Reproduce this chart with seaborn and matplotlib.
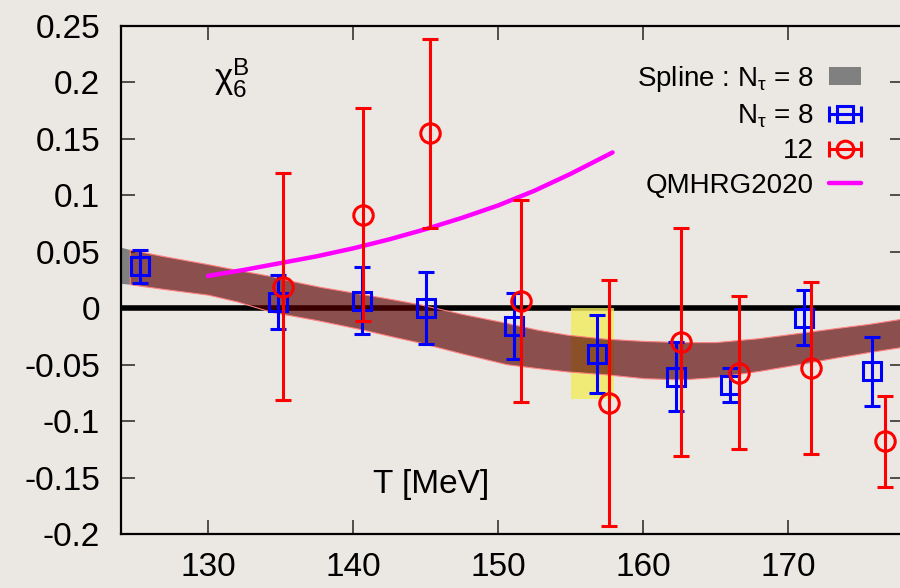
import numpy as np
import matplotlib
matplotlib.use("Agg")
import matplotlib.pyplot as plt
import seaborn as sns
from matplotlib.lines import Line2D
from matplotlib.patches import Patch, Rectangle
from matplotlib.legend_handler import HandlerLine2D, HandlerTuple

# N_tau = 8 lattice points
T8 = [125.3, 134.8, 140.6, 145.0, 151.1, 156.85, 162.3, 166.0, 171.1, 175.8]
chi8 = [0.0372, 0.0056, 0.0068, 0.0, -0.0157, -0.0407, -0.0605, -0.068, -0.0083, -0.056]
err8 = [0.0145, 0.0236, 0.030, 0.032, 0.0295, 0.0345, 0.0307, 0.0153, 0.0245, 0.0307]

# N_tau = 12 lattice points
T12 = [135.15, 140.7, 145.3, 151.6, 157.66, 162.6, 166.6, 171.6, 176.7]
chi12 = [0.019, 0.083, 0.155, 0.006, -0.084, -0.0295, -0.057, -0.053, -0.118]
err12 = [0.1005, 0.0947, 0.0835, 0.0895, 0.109, 0.101, 0.068, 0.0763, 0.040]

# QMHRG2020 curve
T_qm = [130, 132.5, 135, 137.5, 140, 142.5, 145, 147.5, 150, 152.5, 155, 157.9]
chi_qm = [0.0286, 0.034, 0.040, 0.046, 0.053, 0.061, 0.070, 0.080, 0.091, 0.104, 0.119, 0.138]

# spline band (upper / lower edge)
T_band = [124.6, 127, 130, 132, 134.3, 136, 137.7, 140.7, 142.7, 144.6, 147.5, 150.6,
          152.7, 154.8, 157.4, 160.1, 162.7, 165, 168, 171, 173.3, 175.5, 178]
band_hi = [0.052, 0.046, 0.039, 0.034, 0.0286, 0.0235, 0.019, 0.0124, 0.008, 0.0035,
           -0.005, -0.013, -0.019, -0.0235, -0.027, -0.029, -0.030, -0.030, -0.0265,
           -0.0215, -0.0176, -0.014, -0.009]
band_lo = [0.0213, 0.017, 0.012, 0.006, -0.003, -0.007, -0.011, -0.019, -0.025, -0.0304,
           -0.040, -0.0496, -0.053, -0.056, -0.0585, -0.062, -0.063, -0.061, -0.0555,
           -0.049, -0.0437, -0.039, -0.034]
T_gray = [124.0, 124.6]
gray_hi = [0.054, 0.052]
gray_lo = [0.022, 0.0213]

# T_pc region
tpc_range = (155.0, 158.0)
tpc_y = (-0.08, 0.0)

xticks = [130, 140, 150, 160, 170]
yticks = [-0.2, -0.15, -0.1, -0.05, 0.0, 0.05, 0.1, 0.15, 0.2, 0.25]
ytick_labels = ["-0.2", "-0.15", "-0.1", "-0.05", "0", "0.05", "0.1", "0.15", "0.2", "0.25"]

BG = "#ebe8e3"

sns.set_theme(style="ticks")
plt.rcParams["font.family"] = ["Liberation Sans", "DejaVu Sans"]
plt.rcParams["text.color"] = "black"
plt.rcParams["mathtext.fontset"] = "custom"
plt.rcParams["mathtext.rm"] = "Liberation Sans"
plt.rcParams["mathtext.it"] = "Liberation Sans"
plt.rcParams["mathtext.default"] = "regular"
plt.rcParams["axes.unicode_minus"] = False

fig = plt.figure(figsize=(9, 5.88), dpi=100, facecolor=BG)
ax = fig.add_axes([121 / 900, 54 / 588, 783 / 900, 508 / 588])
ax.set_facecolor(BG)

ax.axhline(0, color="black", lw=4, zorder=1)
ax.add_patch(Rectangle((tpc_range[0], tpc_y[0]), tpc_range[1] - tpc_range[0],
                       tpc_y[1] - tpc_y[0], facecolor="#f2ec5c", alpha=0.8,
                       edgecolor="none", zorder=1.5))
ax.fill_between(T_gray, gray_lo, gray_hi, color="#7f7f7f", lw=0, zorder=2)
ax.fill_between(T_band, band_lo, band_hi, facecolor=(0.35, 0.0, 0.0, 0.66),
                edgecolor="#ff8080", lw=0.8, zorder=2)

sns.lineplot(x=T_qm, y=chi_qm, color="#ff00ff", lw=3.2, ax=ax, zorder=4, legend=False)

ax.errorbar(T8, chi8, yerr=err8, fmt="s", ms=13, mfc="none", mec="blue", mew=2.2,
            ecolor="blue", elinewidth=2.2, capsize=6, capthick=2.2, zorder=5)
ax.errorbar(T12, chi12, yerr=err12, fmt="o", ms=14, mfc="none", mec="red", mew=2.2,
            ecolor="red", elinewidth=2.2, capsize=6, capthick=2.2, zorder=6)

ax.set_xlim(124, 178)
ax.set_ylim(-0.2, 0.25)
ax.set_xticks(xticks)
ax.set_yticks(yticks)
ax.set_yticklabels(ytick_labels)
ax.tick_params(direction="in", length=10, width=1.2, top=True, right=True,
               labelsize=24, pad=13, color="#333333", labelcolor="black")
ax.tick_params(axis="y", pad=15)
for s in ax.spines.values():
    s.set_linewidth(1.6)
    s.set_color("black")
ax.set_xlabel("")
ax.set_ylabel("")

ax.text(145.4, -0.156, "T [MeV]", fontsize=24, color="black", ha="center", va="center")
ax.text(130.4, 0.204, r"χ$_6^B$", fontsize=25, color="black", ha="left", va="center")

# legend, gnuplot style
h_spline = Patch(facecolor="#808080", edgecolor="none")
b_bar = Line2D([], [], color="blue", lw=2.2, marker="|", ms=11, mew=2.2)
b_sq = Line2D([], [], ls="none", marker="s", ms=11, mfc="none", mec="blue", mew=2.2)
r_bar = Line2D([], [], color="red", lw=2.2, marker="|", ms=11, mew=2.2)
r_ci = Line2D([], [], ls="none", marker="o", ms=12, mfc="none", mec="red", mew=2.2)
h_qm = Line2D([], [], color="#ff00ff", lw=3.2)
hmap = {b_bar: HandlerLine2D(numpoints=2, marker_pad=0.0),
        r_bar: HandlerLine2D(numpoints=2, marker_pad=0.0),
        b_sq: HandlerLine2D(numpoints=1), r_ci: HandlerLine2D(numpoints=1),
        tuple: HandlerTuple(ndivide=1)}
leg = ax.legend([h_spline, (b_bar, b_sq), (r_bar, r_ci), h_qm],
                [r"Spline : N$_τ$ = 8", r"N$_τ$ = 8", "12", "QMHRG2020"],
                handler_map=hmap, markerfirst=False, frameon=False, fontsize=20,
                loc="upper right", bbox_to_anchor=(861 / 900, 1 - 64 / 588),
                bbox_transform=fig.transFigure, borderpad=0, borderaxespad=0,
                handlelength=1.15, handleheight=0.6, handletextpad=0.55,
                labelspacing=0.3)
for t in leg.get_texts():
    t.set_color("black")
leg.set_zorder(10)

fig.savefig("out.png", dpi=100, facecolor=BG)
